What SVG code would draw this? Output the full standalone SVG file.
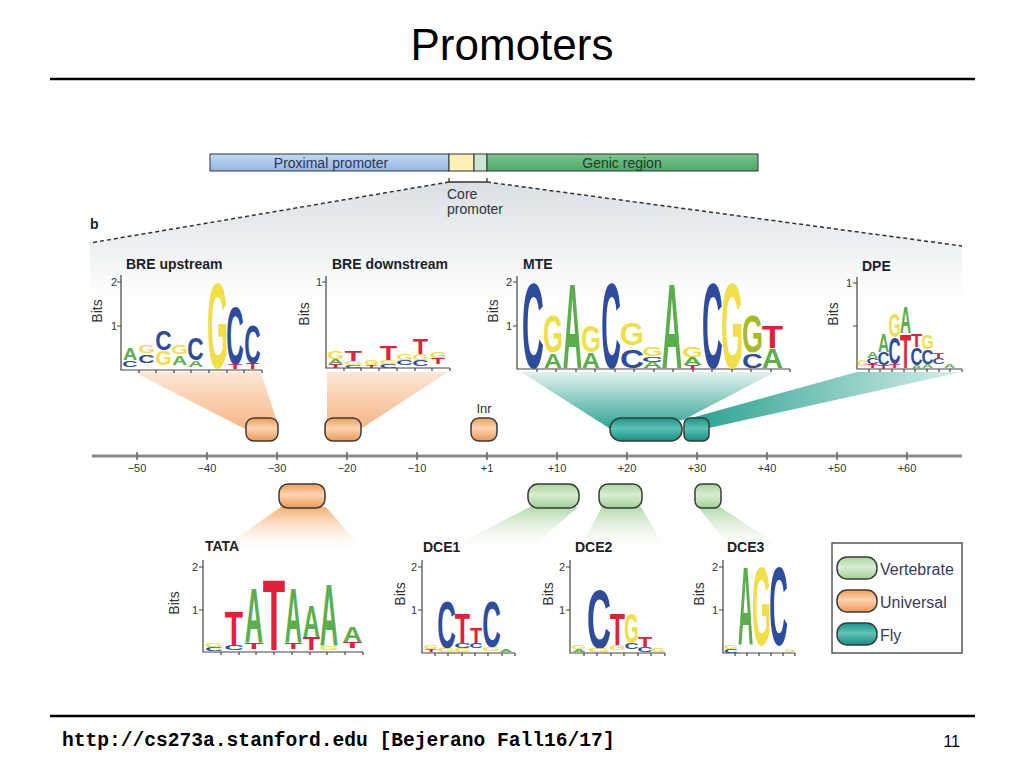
<svg xmlns="http://www.w3.org/2000/svg" width="1024" height="768" viewBox="0 0 1024 768">
<defs>
<style>
.sans{font-family:"Liberation Sans",Arial,sans-serif}
.ttl{font-family:"Liberation Sans",Arial,sans-serif;font-weight:bold;font-size:14px;fill:#1e1e28}
.bits{font-family:"Liberation Sans",Arial,sans-serif;font-size:14px;fill:#333;text-anchor:middle}
.num{font-family:"Liberation Sans",Arial,sans-serif;font-size:11px;fill:#333;text-anchor:end}
.tick{font-family:"Liberation Sans",Arial,sans-serif;font-size:11px;fill:#333;text-anchor:middle}
.ax{fill:none;stroke:#444;stroke-width:1.2}
.lg text{font-family:"Liberation Sans",Arial,sans-serif;font-weight:bold;font-size:10px;text-anchor:middle}
.A{fill:#5cae4c}.C{fill:#2d4c9c}.G{fill:#f0df48}.T{fill:#e1213a}.O{fill:#a9b92c}
.po{fill:url(#gOr);stroke:#3a3a3a;stroke-width:1.5}
.pg{fill:url(#gGr);stroke:#3a3a3a;stroke-width:1.5}
.pt{fill:url(#gTe);stroke:#3a3a3a;stroke-width:1.5}
.leg{font-family:"Liberation Sans",Arial,sans-serif;font-size:16px;fill:#3a3a5a}
</style>
<linearGradient id="gOr" x1="0" y1="0" x2="0" y2="1"><stop offset="0" stop-color="#ef9c58"/><stop offset="0.45" stop-color="#fcd4b2"/><stop offset="1" stop-color="#ee9852"/></linearGradient>
<linearGradient id="gGr" x1="0" y1="0" x2="0" y2="1"><stop offset="0" stop-color="#a7d39c"/><stop offset="0.45" stop-color="#d8eed3"/><stop offset="1" stop-color="#a2cf96"/></linearGradient>
<linearGradient id="gTe" x1="0" y1="0" x2="0" y2="1"><stop offset="0" stop-color="#16968a"/><stop offset="0.45" stop-color="#5fc2b3"/><stop offset="1" stop-color="#138f80"/></linearGradient>
<linearGradient id="gBlue" x1="0" y1="0" x2="0" y2="1"><stop offset="0" stop-color="#c4daf4"/><stop offset="1" stop-color="#92b6e2"/></linearGradient>
<linearGradient id="gGreen" x1="0" y1="0" x2="0" y2="1"><stop offset="0" stop-color="#7cc48e"/><stop offset="1" stop-color="#4fa668"/></linearGradient>
<linearGradient id="gShade" x1="0" y1="0" x2="0" y2="1"><stop offset="0" stop-color="#d9e0e4"/><stop offset="1" stop-color="#ffffff"/></linearGradient>
<linearGradient id="fOrUp" x1="0" y1="0" x2="0" y2="1"><stop offset="0" stop-color="#fde7d6"/><stop offset="1" stop-color="#f6b585"/></linearGradient>
<linearGradient id="fTeUp" x1="0" y1="0" x2="0" y2="1"><stop offset="0" stop-color="#e2f2ef"/><stop offset="1" stop-color="#2aa291"/></linearGradient>
<linearGradient id="fTeDpe" x1="0" y1="0" x2="1" y2="0"><stop offset="0" stop-color="#23a08e"/><stop offset="1" stop-color="#d9eeea"/></linearGradient>
<linearGradient id="fOrDn" x1="0" y1="0" x2="0" y2="1"><stop offset="0" stop-color="#f6ae72"/><stop offset="1" stop-color="#ffffff" stop-opacity="0"/></linearGradient>
<linearGradient id="fGrDn" x1="0" y1="0" x2="0" y2="1"><stop offset="0" stop-color="#b4d9aa"/><stop offset="1" stop-color="#ffffff" stop-opacity="0"/></linearGradient>
</defs>
<rect width="1024" height="768" fill="#fff"/>

<g id="header">
<text x="512" y="60" class="sans" font-size="44" text-anchor="middle" fill="#000">Promoters</text>
<line x1="50" y1="79" x2="975" y2="79" stroke="#000" stroke-width="2.5"/>
</g>

<g id="shading">
<polygon points="449,182 487,182 962,245 962,300 90,300 90,243" fill="url(#gShade)"/>
</g>

<g id="bar">
<rect x="210" y="154" width="239" height="17" fill="url(#gBlue)" stroke="#333" stroke-width="1"/>
<rect x="449" y="154" width="25" height="17" fill="#fdf0b4" stroke="#333" stroke-width="1"/>
<rect x="474" y="154" width="13" height="17" fill="#cbe6d2" stroke="#333" stroke-width="1"/>
<rect x="487" y="154" width="271" height="17" fill="url(#gGreen)" stroke="#333" stroke-width="1"/>
<text x="331" y="167.5" class="sans" font-size="14" text-anchor="middle" fill="#2a3550">Proximal promoter</text>
<text x="622" y="167.5" class="sans" font-size="14" text-anchor="middle" fill="#1d3a26">Genic region</text>
<path d="M449 178 V182 H487 V178" fill="none" stroke="#333" stroke-width="1.3"/>
<text x="447" y="199" class="sans" font-size="14" fill="#333">Core</text>
<text x="447" y="214" class="sans" font-size="14" fill="#333">promoter</text>
<text x="90" y="229" class="sans" font-size="14" font-weight="bold" fill="#222">b</text>
</g>

<g id="connectors">
<line x1="449" y1="182" x2="90" y2="243" stroke="#333" stroke-width="1.5" stroke-dasharray="4 3"/>
<line x1="487" y1="182" x2="962" y2="246" stroke="#333" stroke-width="1.5" stroke-dasharray="4 3"/>
<polygon points="134,372 261,372 279,428 247,430" fill="url(#fOrUp)"/>
<polygon points="327,372 448,372 362,428 327,428" fill="url(#fOrUp)"/>
<polygon points="521,372 775,372 683,420 612,430" fill="url(#fTeUp)"/>
<polygon points="684,420 857,372 962,372 709,428" fill="url(#fTeDpe)"/>
<polygon points="281,507 326,507 366,553 215,553" fill="url(#fOrDn)"/>
<polygon points="530,507 578,507 525,553 440,553" fill="url(#fGrDn)"/>
<polygon points="602,507 641,507 668,553 577,553" fill="url(#fGrDn)"/>
<polygon points="698,507 720,507 790,553 735,553" fill="url(#fGrDn)"/>
</g>

<g id="axis">
<line x1="92" y1="456" x2="962" y2="456" stroke="#8a8a8a" stroke-width="3"/>
<path d="M137 452v8M207 452v8M277 452v8M347 452v8M417 452v8M487 452v8M557 452v8M627 452v8M697 452v8M767 452v8M837 452v8M907 452v8" stroke="#666" stroke-width="1.5"/>
<text class="tick" x="137" y="472">−50</text>
<text class="tick" x="207" y="472">−40</text>
<text class="tick" x="277" y="472">−30</text>
<text class="tick" x="347" y="472">−20</text>
<text class="tick" x="417" y="472">−10</text>
<text class="tick" x="487" y="472">+1</text>
<text class="tick" x="557" y="472">+10</text>
<text class="tick" x="627" y="472">+20</text>
<text class="tick" x="697" y="472">+30</text>
<text class="tick" x="767" y="472">+40</text>
<text class="tick" x="837" y="472">+50</text>
<text class="tick" x="907" y="472">+60</text>
</g>

<g id="pill-bre-up"><rect class="po" x="246" y="418" width="32" height="23" rx="8"/></g>
<g id="pill-bre-down"><rect class="po" x="325" y="418" width="36" height="23" rx="8"/></g>
<g id="pill-inr"><rect class="po" x="471" y="418" width="26" height="23" rx="8"/><text x="484" y="413" class="sans" font-size="13" text-anchor="middle" fill="#333">Inr</text></g>
<g id="pill-mte"><rect class="pt" x="610" y="418" width="72" height="23" rx="11"/></g>
<g id="pill-dpe"><rect class="pt" x="684" y="418" width="25" height="23" rx="6"/></g>
<g id="pill-tata"><rect class="po" x="279" y="484" width="46" height="24" rx="9"/></g>
<g id="pill-dce1"><rect class="pg" x="528" y="484" width="51" height="24" rx="10"/></g>
<g id="pill-dce2"><rect class="pg" x="599" y="484" width="43" height="24" rx="9"/></g>
<g id="pill-dce3"><rect class="pg" x="695" y="484" width="26" height="24" rx="7"/></g>

<!-- BRE upstream -->
<g id="logo-bre-up">
<text class="ttl" x="126" y="269">BRE upstream</text>
<text class="bits" transform="translate(102 311) rotate(-90)">Bits</text>
<path class="ax" d="M121 275V370H262M117 282h4M117 326h4M139 370v3M156 370v3M174 370v3M191 370v3M209 370v3M227 370v3M244 370v3M262 370v3"/>
<text class="num" x="117" y="286">2</text><text class="num" x="117" y="330">1</text>
<g class="lg">
<text class="A" transform="translate(130 360) scale(1.97 1.68)">A</text>
<text class="C" transform="translate(130 367) scale(2.12 0.9)">C</text>
<text class="G" transform="translate(146.5 353) scale(2.14 1.12)">G</text>
<text class="C" transform="translate(146.5 363) scale(2.27 1.12)">C</text>
<text class="C" transform="translate(163.5 350) scale(2.27 2.79)">C</text>
<text class="G" transform="translate(163.5 365) scale(2.14 1.96)">G</text>
<text class="G" transform="translate(179.5 354) scale(2.14 1.26)">G</text>
<text class="A" transform="translate(179.5 365) scale(2.11 1.26)">A</text>
<text class="C" transform="translate(195.5 360) scale(2.27 3.21)">C</text>
<text class="A" transform="translate(195.5 367) scale(2.11 0.84)">A</text>
<text class="G" transform="translate(217.5 368) scale(2.71 12.0)">G</text>
<text class="C" transform="translate(235 364) scale(2.42 8.24)">C</text>
<text class="T" transform="translate(235 369) scale(2.33 0.7)">T</text>
<text class="C" transform="translate(252.5 363) scale(2.27 5.31)">C</text>
<text class="T" transform="translate(252.5 369) scale(2.17 0.84)">T</text>
</g>
</g>

<!-- BRE downstream -->
<g id="logo-bre-down">
<text class="ttl" x="332" y="269">BRE downstream</text>
<text class="bits" transform="translate(309 314) rotate(-90)">Bits</text>
<path class="ax" d="M326 276V368H450M322 282h4M344 368v3M361 368v3M379 368v3M397 368v3M415 368v3M432 368v3M450 368v3"/>
<text class="num" x="322" y="286">1</text>
<g class="lg">
<text class="G" transform="translate(335.5 359) scale(2.14 1.12)">G</text>
<text class="A" transform="translate(335.5 364) scale(2.11 0.7)">A</text>
<text class="T" transform="translate(335.5 368) scale(2.3 0.56)">T</text>
<text class="T" transform="translate(353.5 361) scale(2.83 1.54)">T</text>
<text class="G" transform="translate(353.5 365) scale(2.43 0.56)">G</text>
<text class="C" transform="translate(353.5 368) scale(2.5 0.42)">C</text>
<text class="G" transform="translate(371.5 365) scale(1.86 0.7)">G</text>
<text class="T" transform="translate(371.5 368) scale(2 0.42)">T</text>
<text class="T" transform="translate(388.5 360) scale(2.83 1.96)">T</text>
<text class="G" transform="translate(388.5 364) scale(2.43 0.56)">G</text>
<text class="C" transform="translate(388.5 368) scale(2.5 0.5)">C</text>
<text class="G" transform="translate(404.5 360) scale(2.14 0.98)">G</text>
<text class="C" transform="translate(404.5 365) scale(2.27 0.7)">C</text>
<text class="G" transform="translate(420.5 360) scale(2.14 0.84)">G</text>
<text class="C" transform="translate(420.5 366) scale(2.27 0.84)">C</text>
<text class="T" transform="translate(420.5 354) scale(2.5 2.23)">T</text>
<text class="G" transform="translate(438 358) scale(2.14 0.98)">G</text>
<text class="T" transform="translate(438 364) scale(2.3 0.84)">T</text>
</g>
</g>

<!-- MTE -->
<g id="logo-mte">
<text class="ttl" x="523" y="269">MTE</text>
<text class="bits" transform="translate(498 311) rotate(-90)">Bits</text>
<path class="ax" d="M517 276V369H790M513 282h4M513 326h4M537 369v3M556 369v3M576 369v3M595 369v3M615 369v3M634 369v3M654 369v3M673 369v3M693 369v3M712 369v3M732 369v3M751 369v3M771 369v3M790 369v3"/>
<text class="num" x="512" y="286">2</text><text class="num" x="512" y="330">1</text>
<g class="lg">
<text class="C" transform="translate(533 368) scale(3.03 12.01)">C</text>
<text class="G" transform="translate(553 352) scale(2.57 5.17)">G</text>
<text class="A" transform="translate(553 368) scale(2.54 2.09)">A</text>
<text class="A" transform="translate(572.5 368) scale(2.68 12.01)">A</text>
<text class="G" transform="translate(591 352) scale(2.57 3.77)">G</text>
<text class="A" transform="translate(591 368) scale(2.54 2.23)">A</text>
<text class="C" transform="translate(611 368) scale(2.73 12.01)">C</text>
<text class="G" transform="translate(632 345) scale(3.14 3.07)">G</text>
<text class="C" transform="translate(632 368) scale(3.33 2.51)">C</text>
<text class="G" transform="translate(652.5 356) scale(2.71 1.26)">G</text>
<text class="C" transform="translate(652.5 362) scale(2.88 0.7)">C</text>
<text class="A" transform="translate(652.5 368) scale(2.68 0.84)">A</text>
<text class="A" transform="translate(672 368) scale(2.82 12.01)">A</text>
<text class="G" transform="translate(692.5 357) scale(2.71 1.4)">G</text>
<text class="A" transform="translate(692.5 365) scale(2.68 1.12)">A</text>
<text class="T" transform="translate(692.5 369) scale(2.33 0.56)">T</text>
<text class="C" transform="translate(712.5 368) scale(2.88 12.01)">C</text>
<text class="G" transform="translate(732 368) scale(2.86 12.01)">G</text>
<text class="O" transform="translate(752.5 352) scale(2.71 5.17)">G</text>
<text class="C" transform="translate(752.5 368) scale(2.88 2.09)">C</text>
<text class="T" transform="translate(772.5 348) scale(3.5 3.21)">T</text>
<text class="A" transform="translate(772.5 368) scale(2.96 2.79)">A</text>
</g>
</g>

<!-- DPE -->
<g id="logo-dpe">
<text class="ttl" x="862" y="271">DPE</text>
<text class="bits" transform="translate(838 314) rotate(-90)">Bits</text>
<path class="ax" d="M857 277V369H962M853 283h4M853 326h4M869 369v3M880 369v3M892 369v3M904 369v3M915 369v3M927 369v3M939 369v3M950 369v3M962 369v3"/>
<text class="num" x="852" y="287">1</text>
<g class="lg">
<text class="G" transform="translate(862.5 366) scale(1.29 0.84)">G</text>
<text class="A" transform="translate(872.5 358) scale(1.55 0.84)">A</text>
<text class="C" transform="translate(872.5 364) scale(1.67 0.84)">C</text>
<text class="T" transform="translate(872.5 368) scale(1.83 0.56)">T</text>
<text class="A" transform="translate(883.5 352) scale(1.55 2.65)">A</text>
<text class="C" transform="translate(883.5 365) scale(1.67 1.82)">C</text>
<text class="T" transform="translate(883.5 369) scale(1.83 0.56)">T</text>
<text class="G" transform="translate(894.5 337) scale(1.57 3.35)">G</text>
<text class="C" transform="translate(894.5 364) scale(1.67 3.77)">C</text>
<text class="T" transform="translate(894.5 368) scale(1.83 0.56)">T</text>
<text class="A" transform="translate(905.5 333) scale(1.55 3.63)">A</text>
<text class="T" transform="translate(905.5 368) scale(1.83 4.75)">T</text>
<text class="T" transform="translate(916.5 347) scale(1.83 1.82)">T</text>
<text class="C" transform="translate(916.5 365) scale(1.67 2.37)">C</text>
<text class="A" transform="translate(916.5 369) scale(1.55 0.56)">A</text>
<text class="G" transform="translate(927.5 349) scale(1.57 2.09)">G</text>
<text class="C" transform="translate(927.5 364) scale(1.67 1.96)">C</text>
<text class="A" transform="translate(927.5 368) scale(1.55 0.56)">A</text>
<text class="T" transform="translate(938.5 358) scale(1.83 0.7)">T</text>
<text class="C" transform="translate(938.5 364) scale(1.67 0.84)">C</text>
<text class="A" transform="translate(949.5 368) scale(1.55 0.56)">A</text>
</g>
</g>

<!-- TATA -->
<g id="logo-tata">
<text class="ttl" x="205" y="551">TATA</text>
<text class="bits" transform="translate(179 603) rotate(-90)">Bits</text>
<path class="ax" d="M203 560V652H363M199 567h4M199 610h4M221 652v3M239 652v3M256 652v3M274 652v3M292 652v3M310 652v3M327 652v3M345 652v3M363 652v3"/>
<text class="num" x="198" y="571">2</text><text class="num" x="198" y="614">1</text>
<g class="lg">
<text class="G" transform="translate(214 647) scale(2.43 0.56)">G</text>
<text class="C" transform="translate(214 651) scale(2.5 0.5)">C</text>
<text class="T" transform="translate(234 645) scale(3.0 4.89)">T</text>
<text class="C" transform="translate(234 650) scale(2.73 0.7)">C</text>
<text class="A" transform="translate(254 643) scale(2.54 7.82)">A</text>
<text class="T" transform="translate(254 649) scale(3.0 0.84)">T</text>
<text class="T" transform="translate(274 650) scale(3.67 10.06)">T</text>
<text class="A" transform="translate(293.5 643) scale(2.39 7.82)">A</text>
<text class="T" transform="translate(293.5 649) scale(2.83 0.84)">T</text>
<text class="A" transform="translate(311.5 637) scale(2.39 4.47)">A</text>
<text class="T" transform="translate(311.5 650) scale(2.83 1.82)">T</text>
<text class="A" transform="translate(329 645) scale(2.54 8.8)">A</text>
<text class="G" transform="translate(329 650) scale(2.57 0.56)">G</text>
<text class="A" transform="translate(352.5 642) scale(2.68 2.23)">A</text>
<text class="T" transform="translate(352.5 648) scale(3.17 0.84)">T</text>
</g>
</g>

<!-- DCE1 -->
<g id="logo-dce1">
<text class="ttl" x="423" y="552">DCE1</text>
<text class="bits" transform="translate(405 594) rotate(-90)">Bits</text>
<path class="ax" d="M422 560V653H515M418 567h4M418 610h4M435 653v3M448 653v3M462 653v3M475 653v3M488 653v3M502 653v3M515 653v3"/>
<text class="num" x="417" y="571">2</text><text class="num" x="417" y="614">1</text>
<g class="lg">
<text class="G" transform="translate(431 649) scale(1.86 0.5)">G</text>
<text class="T" transform="translate(431 652) scale(2 0.42)">T</text>
<text class="C" transform="translate(446.5 648) scale(2.58 6.7)">C</text>
<text class="G" transform="translate(446.5 652) scale(2.43 0.5)">G</text>
<text class="T" transform="translate(462.5 643) scale(2.5 4.33)">T</text>
<text class="C" transform="translate(462.5 648) scale(2.27 0.7)">C</text>
<text class="G" transform="translate(462.5 652) scale(2.14 0.5)">G</text>
<text class="T" transform="translate(476 643) scale(2.0 2.23)">T</text>
<text class="C" transform="translate(476 648) scale(1.82 0.7)">C</text>
<text class="C" transform="translate(491.5 647) scale(2.58 6.56)">C</text>
<text class="G" transform="translate(491.5 651) scale(2.43 0.5)">G</text>
<text class="A" transform="translate(506 652) scale(1.8 0.42)">A</text>
</g>
</g>

<!-- DCE2 -->
<g id="logo-dce2">
<text class="ttl" x="575" y="552">DCE2</text>
<text class="bits" transform="translate(553 594) rotate(-90)">Bits</text>
<path class="ax" d="M570 560V653H665M566 567h4M566 610h4M584 653v3M597 653v3M611 653v3M624 653v3M638 653v3M651 653v3M665 653v3"/>
<text class="num" x="565" y="571">2</text><text class="num" x="565" y="614">1</text>
<g class="lg">
<text class="G" transform="translate(579 649) scale(2 0.56)">G</text>
<text class="A" transform="translate(579 652) scale(1.9 0.42)">A</text>
<text class="C" transform="translate(599 648) scale(3.33 8.38)">C</text>
<text class="G" transform="translate(599 652) scale(3.0 0.5)">G</text>
<text class="T" transform="translate(617.5 645) scale(2.5 4.47)">T</text>
<text class="G" transform="translate(617.5 650) scale(2.14 0.7)">G</text>
<text class="G" transform="translate(631.5 643) scale(1.86 4.19)">G</text>
<text class="C" transform="translate(631.5 649) scale(1.97 0.84)">C</text>
<text class="T" transform="translate(645 647) scale(2.33 1.4)">T</text>
<text class="C" transform="translate(645 652) scale(2.12 0.7)">C</text>
<text class="G" transform="translate(658 652) scale(1.86 0.5)">G</text>
</g>
</g>

<!-- DCE3 -->
<g id="logo-dce3">
<text class="ttl" x="727" y="552">DCE3</text>
<text class="bits" transform="translate(704 594) rotate(-90)">Bits</text>
<path class="ax" d="M723 560V653H795M719 567h4M719 610h4M735 653v3M747 653v3M759 653v3M771 653v3M783 653v3M795 653v3"/>
<text class="num" x="718" y="571">2</text><text class="num" x="718" y="614">1</text>
<g class="lg">
<text class="G" transform="translate(731 649) scale(1.86 0.56)">G</text>
<text class="C" transform="translate(731 653) scale(1.97 0.5)">C</text>
<text class="A" transform="translate(745.5 645) scale(2.11 11.17)">A</text>
<text class="G" transform="translate(761.5 645) scale(2.43 11.17)">G</text>
<text class="C" transform="translate(778.5 645) scale(2.58 11.17)">C</text>
<text class="G" transform="translate(790 652) scale(1.3 0.42)">G</text>
</g>
</g>

<g id="legend">
<rect x="832" y="543" width="130" height="110" fill="#fff" stroke="#555" stroke-width="1.5"/>
<g id="legend-vertebrate"><rect class="pg" x="837" y="557" width="40" height="22" rx="10"/><text class="leg" x="880" y="575">Vertebrate</text></g>
<g id="legend-universal"><rect class="po" x="837" y="590" width="40" height="22" rx="10"/><text class="leg" x="880" y="608">Universal</text></g>
<g id="legend-fly"><rect class="pt" x="837" y="623" width="40" height="22" rx="10"/><text class="leg" x="880" y="641">Fly</text></g>
</g>

<g id="footer">
<line x1="50" y1="716" x2="975" y2="716" stroke="#000" stroke-width="2.5"/>
<text x="62" y="746" font-family="'Liberation Mono','Courier New',monospace" font-weight="bold" font-size="19.6" fill="#000">http://cs273a.stanford.edu [Bejerano Fall16/17]</text>
<text x="960" y="747" class="sans" font-size="16" text-anchor="end" fill="#000">11</text>
</g>
</svg>
